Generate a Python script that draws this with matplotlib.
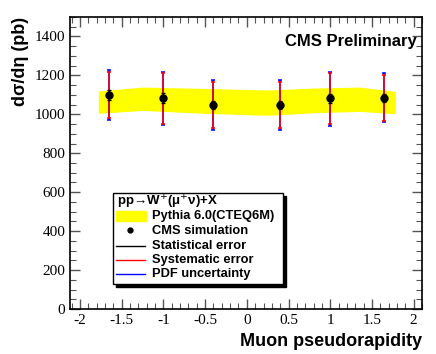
import matplotlib
matplotlib.use("Agg")
import matplotlib.pyplot as plt
from matplotlib.ticker import MultipleLocator
from matplotlib.patches import Rectangle
from matplotlib.lines import Line2D

# data
eta = [-1.65, -1.0, -0.4, 0.4, 1.0, 1.65]
xsec = [1100, 1083, 1048, 1048, 1082, 1085]
stat_err = [25, 25, 22, 22, 25, 22]
syst_up = [120, 129, 117, 117, 130, 118]
syst_dn = [120, 131, 118, 118, 132, 118]
pdf_up = [128, 135, 127, 127, 138, 125]
pdf_dn = [128, 137, 126, 126, 140, 125]

band_eta = [-1.78, -1.25, -0.5, 0.25, 0.8, 1.35, 1.78]
band_hi = [1120, 1140, 1133, 1125, 1135, 1140, 1118]
band_lo = [1005, 1020, 1005, 995, 1008, 1015, 1003]

sans = "Liberation Sans"
serif = "Liberation Serif"

fig = plt.figure(figsize=(4.36, 3.54), dpi=100)
ax = fig.add_axes([70 / 436, 1 - 309 / 354, 352 / 436, 292 / 354])

ax.fill_between(band_eta, band_lo, band_hi, color="#ffff00", lw=0, zorder=1)

# pdf, systematic, statistical errors
ax.errorbar(eta, xsec, yerr=[pdf_dn, pdf_up], fmt="none", ecolor="blue",
            elinewidth=1.1, capsize=1.5, capthick=1.1, zorder=2)
ax.errorbar(eta, xsec, yerr=[syst_dn, syst_up], fmt="none", ecolor="red",
            elinewidth=1.1, capsize=1.5, capthick=1.1, zorder=3)
ax.errorbar(eta, xsec, yerr=stat_err, fmt="o", color="black", ms=5,
            ecolor="black", elinewidth=1, capsize=1.5, capthick=1, zorder=4)

ax.set_xlim(-2.12, 2.1)
ax.set_ylim(0, 1500)
ax.xaxis.set_major_locator(MultipleLocator(0.5))
ax.xaxis.set_minor_locator(MultipleLocator(0.1))
ax.yaxis.set_major_locator(MultipleLocator(200))
ax.yaxis.set_minor_locator(MultipleLocator(50))
ax.tick_params(which="both", direction="in", top=True, right=True, color="#555555")
ax.tick_params(which="major", length=7, width=1)
ax.tick_params(which="minor", length=4, width=0.8)
ax.set_xticks([-2, -1.5, -1, -0.5, 0, 0.5, 1, 1.5, 2])
ax.set_xticklabels(["-2", "-1.5", "-1", "-0.5", "0", "0.5", "1", "1.5", "2"])
for lab in ax.get_xticklabels() + ax.get_yticklabels():
    lab.set_fontfamily(serif)
    lab.set_fontsize(11)
for sp in ax.spines.values():
    sp.set_linewidth(1.2)

ax.set_ylabel("d\u03c3/d\u03b7 (pb)", fontfamily=sans, fontweight="bold",
              fontsize=13, loc="top")
fig.text(422 / 436, 1 - 342 / 354, "Muon pseudorapidity", fontfamily=sans,
         fontweight="bold", fontsize=13, ha="right", va="center")

ax.text(0.985, 0.915, "CMS Preliminary", transform=ax.transAxes, ha="right",
        va="center", fontfamily=sans, fontweight="bold", fontsize=12)

# legend box with shadow
lx0, ly0, lx1, ly1 = 113, 193, 283, 284
def px(x, y):
    return x / 436, 1 - y / 354
fig.patches.append(Rectangle(px(lx0 + 3, ly1 + 3), (lx1 - lx0) / 436,
                             (ly1 - ly0) / 354, transform=fig.transFigure,
                             color="black", zorder=5))
fig.patches.append(Rectangle(px(lx0, ly1), (lx1 - lx0) / 436, (ly1 - ly0) / 354,
                             transform=fig.transFigure, facecolor="white",
                             edgecolor="black", lw=1, zorder=6))

fig.text(*px(117, 202), "pp\u2192W$^{+}$(\u03bc$^{+}$\u03bd)+X", fontfamily=sans,
         fontweight="bold", fontsize=9.5, va="center", zorder=7)
rows = ["Pythia 6.0(CTEQ6M)", "CMS simulation", "Statistical error",
        "Systematic error", "PDF uncertainty"]
ys = [216, 231, 246, 260, 274]
fig.patches.append(Rectangle(px(116, 221), 30 / 436, 10 / 354,
                             transform=fig.transFigure, color="#ffff00", zorder=7))
fig.lines.append(Line2D([px(130, 0)[0]], [px(0, 230)[1]], marker="o", ms=3.5,
                        color="black", transform=fig.transFigure, zorder=7))
for c, y in zip(["black", "red", "blue"], ys[2:]):
    fig.lines.append(Line2D([116 / 436, 145 / 436], [1 - y / 354] * 2, color=c,
                            lw=1, transform=fig.transFigure, zorder=7))
for t, y in zip(rows, ys):
    fig.text(*px(152, y), t, fontfamily=sans, fontweight="bold", fontsize=9.3,
             va="center", zorder=7)

fig.savefig("out.png", dpi=100)
